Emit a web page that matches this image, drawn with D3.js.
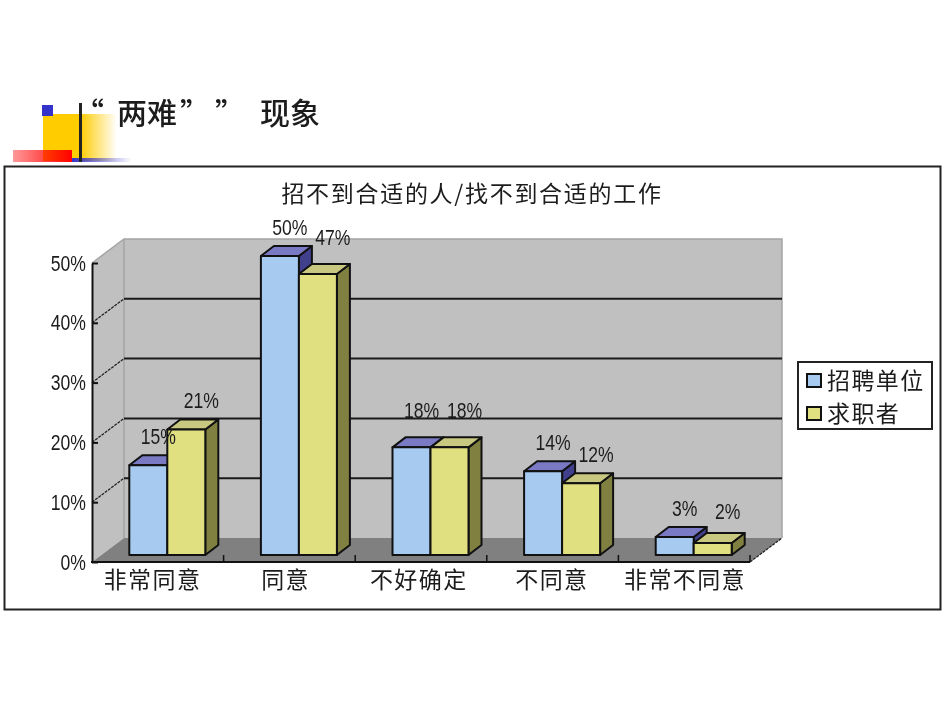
<!DOCTYPE html>
<meta charset="utf-8">
<style>
	body { margin:0; background:#fff; }
	svg { display:block; filter:blur(0.4px); }
	text { font-family:"Noto Sans CJK SC","Liberation Sans",sans-serif; fill:#1c1c1c; }
	.num { font-family:"Liberation Sans",sans-serif; font-size:22px; }
	.cjk { font-size:23px; letter-spacing:1.4px; }
	.chartTitle { font-size:23px; letter-spacing:1.7px; }
</style>
<script src="https://d3js.org/d3.v7.min.js"></script>
<body>
<script>
	var categories = ["非常同意","同意","不好确定","不同意","非常不同意"];
	var seriesNames = ["招聘单位","求职者"];
	var recruiters = [15,50,18,14,3];
	var seekers = [21,47,18,12,2];
	var yTicks = [0,10,20,30,40,50];

	var frontColors = ["#a6caf0","#e0e080"];
	var topColors = ["#7a7ac4","#c8c880"];
	var sideColors = ["#40408c","#808040"];

	var width = 950, height = 713;
	var svg = d3.select("body").append("svg").attr("width",width).attr("height",height);
	var defs = svg.append("defs");

	function fade(id,stops) {
		var g = defs.append("linearGradient").attr("id",id);
		stops.forEach(function(s) {
			g.append("stop").attr("offset",s[0]).attr("stop-color",s[1]).attr("stop-opacity",s[2]);
		});
	}
	fade("yellowFade",[[0.5,"#ffcc00",1],[1,"#ffcc00",0]]);
	fade("redFade",[[0,"#ff0000",0.4],[1,"#ff0000",1]]);
	fade("blueFade",[[0,"#3333cc",1],[1,"#3333cc",0]]);

	// slide bullet
	svg.append("rect").attr("x",43).attr("y",114).attr("width",74).attr("height",47).attr("fill","url(#yellowFade)");
	svg.append("rect").attr("x",42).attr("y",105).attr("width",11).attr("height",11).attr("fill","#3333cc");
	svg.append("rect").attr("x",72).attr("y",158).attr("width",60).attr("height",4).attr("fill","url(#blueFade)");
	svg.append("rect").attr("x",13).attr("y",150).attr("width",59).attr("height",12).attr("fill","url(#redFade)");
	svg.append("rect").attr("x",79).attr("y",103).attr("width",3).attr("height",59).attr("fill","#222");

	// slide title
	[["“",74],["两难",117],["”",180],["”",215],["现象",260]].forEach(function(t) {
		svg.append("text").attr("x",t[1]).attr("y",124).attr("font-size",30)
			.attr("font-weight",500).attr("fill","#000").text(t[0]);
	});

	// chart box
	svg.append("rect").attr("x",4.5).attr("y",166.5).attr("width",936).attr("height",443)
		.attr("fill","#fff").attr("stroke","#222").attr("stroke-width",2);
	svg.append("text").attr("class","chartTitle").attr("x",472).attr("y",202).attr("text-anchor","middle")
		.text("招不到合适的人/找不到合适的工作");

	// scales: front plane of the 3d box
	var x0 = d3.scaleBand().domain(categories).range([92,750]);
	var x1 = d3.scaleBand().domain(seriesNames).range([0,76]);
	var y = d3.scaleLinear().domain([0,50]).range([562,263]);
	var depth = {x:32, y:-24};      // front plane to back wall
	var barBack = {x:9.5, y:-7};    // front plane to bar front
	var barDepth = {x:13, y:-10};   // thickness of a bar

	var plot = svg.append("g");
	var pts = function(a) { return a.map(function(p) { return p.join(","); }).join(" "); };

	var xl = x0.range()[0], xr = x0.range()[1];
	plot.append("polygon").attr("fill","#c0c0c0")
		.attr("points",pts([[xl,y(50)],[xl+depth.x,y(50)+depth.y],[xr+depth.x,y(50)+depth.y],[xr+depth.x,y(0)+depth.y],[xl+depth.x,y(0)+depth.y],[xl,y(0)]]));
	plot.append("polygon").attr("fill","#808080")
		.attr("points",pts([[xl,y(0)],[xr,y(0)],[xr+depth.x,y(0)+depth.y],[xl+depth.x,y(0)+depth.y]]));
	plot.append("path").attr("fill","none").attr("stroke","#a4a4a4").attr("stroke-width",1.5)
		.attr("d","M"+xl+","+y(50)+"L"+(xl+depth.x)+","+(y(50)+depth.y)+"H"+(xr+depth.x)+"V"+(y(0)+depth.y)
			+"M"+(xl+depth.x)+","+(y(50)+depth.y)+"V"+(y(0)+depth.y));

	// gridlines on back wall and side wall
	yTicks.slice(1,5).forEach(function(t) {
		plot.append("line").attr("x1",xl+depth.x).attr("x2",xr+depth.x)
			.attr("y1",y(t)+depth.y).attr("y2",y(t)+depth.y)
			.attr("stroke","#1a1a1a").attr("stroke-width",2);
		plot.append("line").attr("x1",xl).attr("x2",xl+depth.x)
			.attr("y1",y(t)).attr("y2",y(t)+depth.y)
			.attr("stroke","#222").attr("stroke-width",1.3).attr("stroke-dasharray","3,1");
	});
	plot.append("line").attr("x1",xr).attr("x2",xr+depth.x)
		.attr("y1",y(0)).attr("y2",y(0)+depth.y)
		.attr("stroke","#222").attr("stroke-width",1.3).attr("stroke-dasharray","3,1");

	// axes
	var yAxis = plot.append("g").attr("transform","translate("+xl+",0)")
		.call(d3.axisLeft(y).tickValues(yTicks).tickSize(0).tickPadding(6).tickFormat(function(d) { return d+"%"; }));
	yAxis.selectAll("text").attr("class","num").attr("font-family",null).attr("font-size",null);
	yAxis.select(".domain").attr("stroke","#111").attr("stroke-width",2);
	yAxis.selectAll(".tick line").attr("stroke","#111").attr("stroke-width",2).attr("x2",6);

	plot.append("line").attr("x1",xl-1).attr("x2",xr).attr("y1",y(0)).attr("y2",y(0))
		.attr("stroke","#111").attr("stroke-width",2);
	x0.domain().forEach(function(c) {
		plot.append("line").attr("x1",x0(c)+x0.step()).attr("x2",x0(c)+x0.step())
			.attr("y1",y(0)).attr("y2",y(0)-7).attr("stroke","#111").attr("stroke-width",1.5);
	});

	var xLabel = d3.scalePoint().domain(categories).range([152,684.5]);
	var xAxis = plot.append("g").attr("transform","translate(0,"+y(0)+")")
		.call(d3.axisBottom(xLabel).tickSize(0).tickPadding(10));
	xAxis.select(".domain").remove();
	xAxis.selectAll("text").attr("class","cjk").attr("font-family",null).attr("font-size",null);

	// bars
	var rows = [];
	categories.forEach(function(c,i) {
		rows.push({cat:c, s:0, value:recruiters[i]});
		rows.push({cat:c, s:1, value:seekers[i]});
	});
	var pad = (x0.bandwidth()-(x1.range()[1]-x1.range()[0]))/2;
	rows.forEach(function(d) {
		var bx = x0(d.cat)+pad+barBack.x+x1(seriesNames[d.s]);
		var bw = x1.bandwidth();
		var by = y(d.value)+barBack.y;
		var base = y(0)+barBack.y;
		var g = plot.append("g").attr("stroke","#111").attr("stroke-width",2).attr("stroke-linejoin","round");
		g.append("polygon").attr("fill",sideColors[d.s])
			.attr("points",pts([[bx+bw,by],[bx+bw+barDepth.x,by+barDepth.y],[bx+bw+barDepth.x,base+barDepth.y],[bx+bw,base]]));
		g.append("polygon").attr("fill",topColors[d.s])
			.attr("points",pts([[bx,by],[bx+barDepth.x,by+barDepth.y],[bx+bw+barDepth.x,by+barDepth.y],[bx+bw,by]]));
		g.append("rect").attr("x",bx).attr("y",by).attr("width",bw).attr("height",base-by).attr("fill",frontColors[d.s]);
	});

	// value labels sit on top of all bars, a few are lifted clear as in the original
	rows.forEach(function(d) {
		var lift = (d.value==18||d.value==47) ? 29 : (d.value==2 ? 24 : 21);
		plot.append("text").attr("class","num").attr("text-anchor","middle")
			.attr("x",x0(d.cat)+pad+barBack.x+x1(seriesNames[d.s])+x1.bandwidth()/2+(d.s?15:10))
			.attr("y",y(d.value)+barBack.y-lift)
			.text(d.value+"%");
	});

	// squeeze the percent labels, the original face is tall and narrow
	plot.selectAll("text.num").each(function() {
		d3.select(this).attr("lengthAdjust","spacingAndGlyphs")
			.attr("textLength",this.getComputedTextLength()*0.8);
	});

	// legend
	var legend = svg.append("g");
	legend.append("rect").attr("x",798).attr("y",362).attr("width",134).attr("height",67)
		.attr("fill","#fff").attr("stroke","#222").attr("stroke-width",2);
	seriesNames.forEach(function(s,i) {
		legend.append("rect").attr("x",807).attr("y",374+i*34-(i?1:0)).attr("width",14).attr("height",13)
			.attr("fill",frontColors[i]).attr("stroke","#111").attr("stroke-width",2);
		legend.append("text").attr("class","cjk").attr("x",827).attr("y",389+i*33).text(s);
	});
</script>
</body>
